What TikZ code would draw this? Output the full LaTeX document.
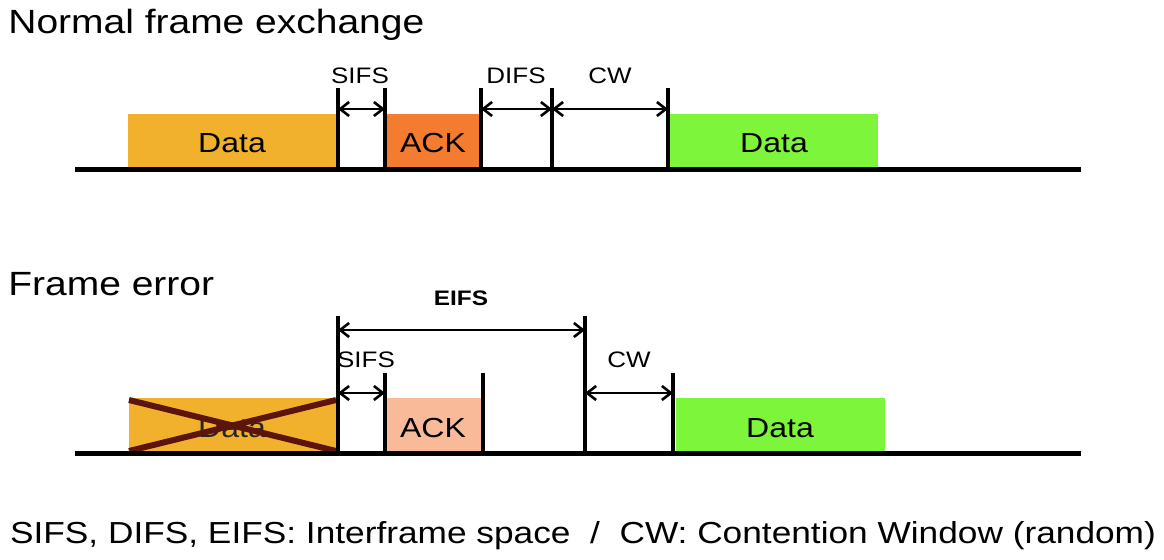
\documentclass[tikz,border=0pt]{standalone}
\usepackage{fontspec}
\setmainfont{Liberation Sans}[FakeStretch=1.16]
\usepackage{xcolor}
\usepackage{tikz}
\usetikzlibrary{arrows.meta}
\definecolor{dataorange}{HTML}{F2B12D}
\definecolor{ackorange}{HTML}{F47C30}
\definecolor{ackpale}{HTML}{F9BA9A}
\definecolor{greenx}{HTML}{7DF53B}
\definecolor{crossbrown}{HTML}{5B150C}
\tikzset{
  base/.style={line width=2.5pt,black},
  tick/.style={line width=1.6pt,black},
  span/.style={{Straight Barb[length=4.5pt,width=7pt]}-{Straight Barb[length=4.5pt,width=7pt]},line width=1.3pt,black},
  ttl/.style={font=\fontsize{16.8}{20}\selectfont,anchor=base west,inner sep=0pt},
  lbl/.style={font=\fontsize{11.2}{13}\selectfont,anchor=base,inner sep=0pt},
  frm/.style={font=\fontsize{13.8}{16}\selectfont,anchor=base,inner sep=0pt}
}
\begin{document}
\begin{tikzpicture}[x=0.5pt,y=-0.5pt]
\useasboundingbox (0,0) rectangle (1164,559);
% normal frame exchange
\node[ttl] (ttlA) at (8,33) {Normal frame exchange};
\fill[dataorange] (128,114) rectangle (336,167);
\fill[ackorange] (386,114) rectangle (481,167);
\fill[greenx] (670,114) rectangle (878,167);
\node[frm] (dataA) at (232,152) {Data};
\node[frm] (ackA) at (433,152) {ACK};
\node[frm] (dataB) at (774,152) {Data};
\foreach \x in {338,385,481,552,668}{\draw[tick] (\x,169)--(\x,88);}
\draw[base] (75,169)--(1081,169);
\coordinate (a1) at (338,109); \coordinate (a2) at (385,109);
\coordinate (a3) at (481,109); \coordinate (a4) at (552,109);
\coordinate (a5) at (668,109);
\draw[span] (a1)--(a2);
\draw[span] (a3)--(a4);
\draw[span] (a4)--(a5);
\node[lbl] (sifsA) at (360,83) {SIFS};
\node[lbl] (difsA) at (516,83) {DIFS};
\node[lbl] (cwA) at (610,83) {CW};
% frame error
\node[ttl] (ttlB) at (8,295) {Frame error};
\fill[dataorange] (129,398) rectangle (336,451);
\fill[ackpale] (386,398) rectangle (482,451);
\fill[greenx] (676,398) rectangle (885,451);
\node[frm,text=black!85] (dataC) at (232,437) {Data};
\draw[crossbrown,line width=3pt] (129,400)--(336,451) (129,451)--(336,400);
\node[frm] (ackB) at (433,437) {ACK};
\node[frm] (dataD) at (780,437) {Data};
\foreach \x/\t in {338/316,385/373,483/373,585/316,673/373}{\draw[tick] (\x,453)--(\x,\t);}
\draw[base] (75,453)--(1081,453);
\coordinate (b1) at (338,393); \coordinate (b2) at (385,393);
\coordinate (b3) at (585,393); \coordinate (b4) at (673,393);
\coordinate (e1) at (338,330); \coordinate (e2) at (585,330);
\draw[span] (e1)--(e2);
\draw[span] (b1)--(b2);
\draw[span] (b3)--(b4);
\node[lbl,font=\fontsize{10.5}{12}\selectfont\bfseries] (eifs) at (461,305) {EIFS};
\node[lbl] (sifsB) at (366,367) {SIFS};
\node[lbl] (cwB) at (629,367) {CW};
% legend
\node[font=\fontsize{15.2}{18}\selectfont,anchor=base,inner sep=0pt] (legend) at (583,543) {SIFS, DIFS, EIFS: Interframe space \ / \ CW: Contention Window (random)};
\end{tikzpicture}
\end{document}
